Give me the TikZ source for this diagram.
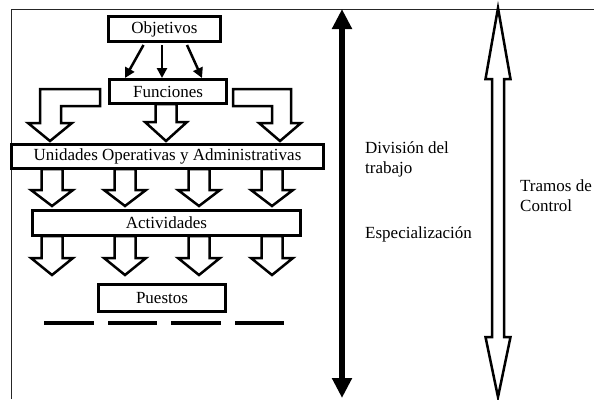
\documentclass[tikz,border=0pt]{standalone}
\usepackage{fontspec}
\setmainfont{Liberation Serif}
\usetikzlibrary{arrows.meta}
\tikzset{
  box/.style={draw, line width=3pt, inner sep=0pt, fill=white, font=\fontsize{17}{19}\selectfont},
  blk/.style={draw, line width=2.5pt, fill=white, line join=miter},
  thinarr/.style={line width=2.5pt, -{Triangle[width=10pt,length=10pt]}},
  lbl/.style={anchor=north west, inner sep=0pt, align=left, font=\fontsize{17}{20}\selectfont},
  dashseg/.style={line width=4pt},
  frame/.style={line width=1pt, draw=black!85}
}
\newcommand\bdown[4]{%
  \draw[blk] (#1-10.5,#2) -- (#1+10.5,#2) -- (#1+10.5,#3) -- (#1+21,#3) -- (#1,#4) -- (#1-21,#3) -- (#1-10.5,#3) -- cycle;}
\begin{document}
\begin{tikzpicture}[x=1pt,y=-1pt]
\useasboundingbox (0,0) rectangle (594,399);
% frame
\draw[frame] (11,399) -- (11,9) -- (594,9);

% block arrows (drawn first, boxes on top)
% left bent
\draw[blk] (100,89) -- (40,89) -- (40,123) -- (28,123) -- (50,141) -- (72,123) -- (61,123) -- (61,106) -- (100,106) -- cycle;
% right bent
\draw[blk] (233,89) -- (291,89) -- (291,123) -- (301,123) -- (280,141) -- (259,123) -- (272,123) -- (272,106) -- (233,106) -- cycle;
% middle
\bdown{166}{104}{122}{141}
% row below Unidades
\bdown{52}{169}{190}{206}
\bdown{125}{169}{190}{206}
\bdown{199}{169}{190}{206}
\bdown{272}{169}{190}{206}
% row below Actividades
\bdown{52}{236}{258}{275}
\bdown{125}{236}{258}{275}
\bdown{199}{236}{258}{275}
\bdown{272}{236}{258}{275}

% boxes
\node[box, minimum width=112pt, minimum height=25pt] (obj) at (164.5,29) {Objetivos};
\node[box, minimum width=117pt, minimum height=24pt] (fun) at (168,91.5) {Funciones};
\node[box, minimum width=312pt, minimum height=24pt] (uni) at (167.5,156.5) {Unidades Operativas y Administrativas};
\node[box, minimum width=268pt, minimum height=25pt] (act) at (166.5,223) {Actividades};
\node[box, minimum width=127pt, minimum height=27pt] (pue) at (162,298) {Puestos};

% arrows Objetivos -> Funciones
\draw[thinarr] ([xshift=-21pt,yshift=-2pt]obj.south) -- ([xshift=-43pt]fun.north);
\draw[thinarr] ([xshift=-2.5pt,yshift=-2pt]obj.south) -- ([xshift=-6pt]fun.north);
\draw[thinarr] ([xshift=22.5pt,yshift=-2pt]obj.south) -- ([xshift=34pt]fun.north);

% dashes below Puestos
\draw[dashseg] (44,323) -- (94,323);
\draw[dashseg] (108,323) -- (157,323);
\draw[dashseg] (171,323) -- (221,323);
\draw[dashseg] (235,323) -- (284,323);

% big black double arrow
\coordinate (bt) at (342,9);
\coordinate (bb) at (342,398);
\draw[line width=5.5pt, {Triangle[width=19pt,length=20pt]}-{Triangle[width=19pt,length=20pt]}] (bt) -- (bb);

% hollow double arrow
\draw[line width=2.5pt, fill=white, line join=miter, miter limit=20]
  (498,8) -- (510.5,79) -- (504,79) -- (504,337) -- (510.5,337) -- (498,397)
  -- (485.5,337) -- (492,337) -- (492,79) -- (485.5,79) -- cycle;

% labels
\node[lbl] (div) at (365,141) {División del\\trabajo};
\node[lbl] (esp) at (365,226) {Especialización};
\node[lbl] (tra) at (520,180) {Tramos de\\Control};
\end{tikzpicture}
\end{document}
